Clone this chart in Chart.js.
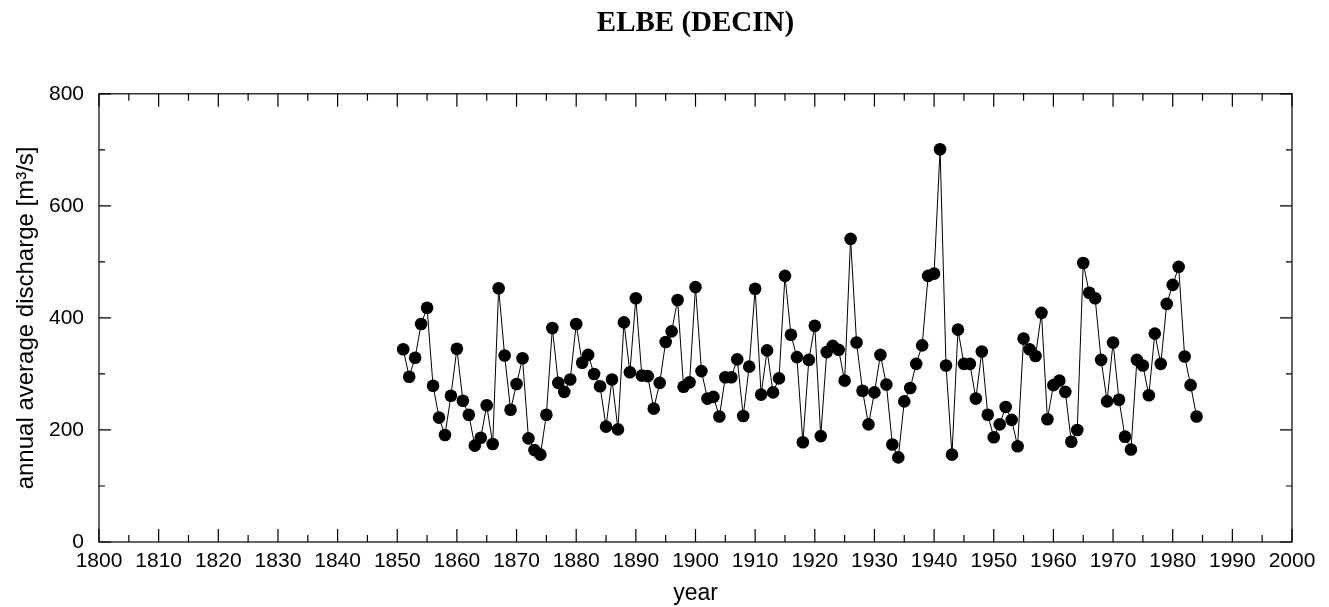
<!DOCTYPE html>
<html>
<head>
<meta charset="utf-8">
<title>ELBE (DECIN)</title>
<script src="https://cdn.jsdelivr.net/npm/chart.js@4.4.1/dist/chart.umd.min.js"></script>
<style>
  html, body { margin: 0; padding: 0; background: #fff; }
  #wrap { width: 1329px; height: 607px; position: relative; }
</style>
</head>
<body>
<div id="wrap"><canvas id="chart"></canvas></div>
<script>
// ── Data ──────────────────────────────────────────────────
const years = [
  1851, 1852, 1853, 1854, 1855, 1856, 1857, 1858, 1859, 1860,
  1861, 1862, 1863, 1864, 1865, 1866, 1867, 1868, 1869, 1870,
  1871, 1872, 1873, 1874, 1875, 1876, 1877, 1878, 1879, 1880,
  1881, 1882, 1883, 1884, 1885, 1886, 1887, 1888, 1889, 1890,
  1891, 1892, 1893, 1894, 1895, 1896, 1897, 1898, 1899, 1900,
  1901, 1902, 1903, 1904, 1905, 1906, 1907, 1908, 1909, 1910,
  1911, 1912, 1913, 1914, 1915, 1916, 1917, 1918, 1919, 1920,
  1921, 1922, 1923, 1924, 1925, 1926, 1927, 1928, 1929, 1930,
  1931, 1932, 1933, 1934, 1935, 1936, 1937, 1938, 1939, 1940,
  1941, 1942, 1943, 1944, 1945, 1946, 1947, 1948, 1949, 1950,
  1951, 1952, 1953, 1954, 1955, 1956, 1957, 1958, 1959, 1960,
  1961, 1962, 1963, 1964, 1965, 1966, 1967, 1968, 1969, 1970,
  1971, 1972, 1973, 1974, 1975, 1976, 1977, 1978, 1979, 1980,
  1981, 1982, 1983, 1984
];

const discharge = [
  344, 295, 329, 389, 418, 279, 222, 191, 261, 345,
  252, 227, 172, 186, 244, 175, 453, 333, 236, 282,
  328, 185, 164, 156, 227, 382, 284, 268, 290, 389,
  320, 334, 300, 278, 206, 290, 201, 392, 303, 435,
  297, 296, 238, 284, 357, 376, 432, 277, 285, 455,
  305, 256, 259, 224, 294, 294, 326, 225, 313, 452,
  263, 342, 267, 292, 475, 370, 330, 178, 325, 386,
  189, 339, 350, 343, 288, 541, 356, 270, 210, 267,
  334, 281, 174, 151, 251, 275, 318, 351, 475, 479,
  701, 315, 156, 379, 318, 318, 256, 340, 227, 187,
  210, 241, 218, 171, 363, 344, 332, 409, 219, 280,
  288, 268, 179, 200, 498, 445, 435, 325, 251, 356,
  254, 188, 165, 325, 315, 262, 372, 318, 425, 459,
  491, 331, 280, 224
];

const xTicks = [1800, 1810, 1820, 1830, 1840, 1850, 1860, 1870, 1880, 1890,
                1900, 1910, 1920, 1930, 1940, 1950, 1960, 1970, 1980, 1990, 2000];
const yTicks = [0, 200, 400, 600, 800];

const points = years.map((y, i) => ({ x: y, y: discharge[i] }));

// ── Inward tick marks + frame (gnuplot style) ─────────────
const frameTicks = {
  id: 'frameTicks',
  afterDatasetsDraw(chart) {
    const { ctx, chartArea: a, scales: { x, y } } = chart;
    ctx.save();
    ctx.strokeStyle = '#000';
    ctx.lineWidth = 1.2;
    ctx.beginPath();
    for (let yr = 1800; yr <= 2000; yr += 5) {
      const px = x.getPixelForValue(yr);
      const len = yr % 10 === 0 ? 13 : 7;
      ctx.moveTo(px, a.bottom); ctx.lineTo(px, a.bottom - len);
      ctx.moveTo(px, a.top);    ctx.lineTo(px, a.top + len);
    }
    for (let v = 0; v <= 800; v += 100) {
      const py = y.getPixelForValue(v);
      const len = v % 200 === 0 ? 12 : 6;
      ctx.moveTo(a.left, py);  ctx.lineTo(a.left + len, py);
      ctx.moveTo(a.right, py); ctx.lineTo(a.right - len, py);
    }
    ctx.stroke();
    ctx.strokeRect(a.left, a.top, a.right - a.left, a.bottom - a.top);
    ctx.restore();
  }
};

const sans = '"Liberation Sans", Arial, sans-serif';

// ── Chart ─────────────────────────────────────────────────
new Chart(document.getElementById('chart'), {
  type: 'line',
  data: {
    datasets: [{
      data: points,
      borderColor: '#000',
      borderWidth: 1,
      backgroundColor: '#000',
      pointRadius: 6.3,
      pointHoverRadius: 6.3,
      pointBorderWidth: 0,
      pointBackgroundColor: '#000',
      tension: 0,
      clip: false
    }]
  },
  options: {
    responsive: true,
    maintainAspectRatio: false,
    animation: false,
    layout: { padding: { left: 0, right: 37, top: 0, bottom: 0 } },
    plugins: {
      legend: { display: false },
      tooltip: { enabled: false },
      title: {
        display: true,
        text: 'ELBE (DECIN)',
        fullSize: false,
        color: '#000',
        font: { family: '"Liberation Serif", "Times New Roman", serif', size: 29, weight: 'bold' },
        padding: { top: 6, bottom: 53 }
      }
    },
    scales: {
      x: {
        type: 'linear',
        min: 1800,
        max: 2000,
        afterFit: s => { s.height = 65; },
        afterBuildTicks: s => { s.ticks = xTicks.map(v => ({ value: v })); },
        grid: { display: false, drawTicks: false },
        border: { display: false },
        ticks: {
          color: '#000',
          padding: 7,
          autoSkip: false,
          maxRotation: 0,
          callback: v => String(v),
          font: { family: sans, size: 21 }
        },
        title: {
          display: true,
          text: 'year',
          color: '#000',
          padding: { top: 0, bottom: 0 },
          font: { family: sans, size: 23 }
        }
      },
      y: {
        min: 0,
        max: 800,
        afterFit: s => { s.width = 99; },
        afterBuildTicks: s => { s.ticks = yTicks.map(v => ({ value: v })); },
        grid: { display: false, drawTicks: false },
        border: { display: false },
        ticks: {
          color: '#000',
          padding: 15,
          callback: v => String(v),
          font: { family: sans, size: 21 }
        },
        title: {
          display: true,
          text: 'annual average discharge [m³/s]',
          color: '#000',
          padding: { top: 12, bottom: 0 },
          font: { family: sans, size: 24 }
        }
      }
    }
  },
  plugins: [frameTicks]
});
</script>
</body>
</html>
